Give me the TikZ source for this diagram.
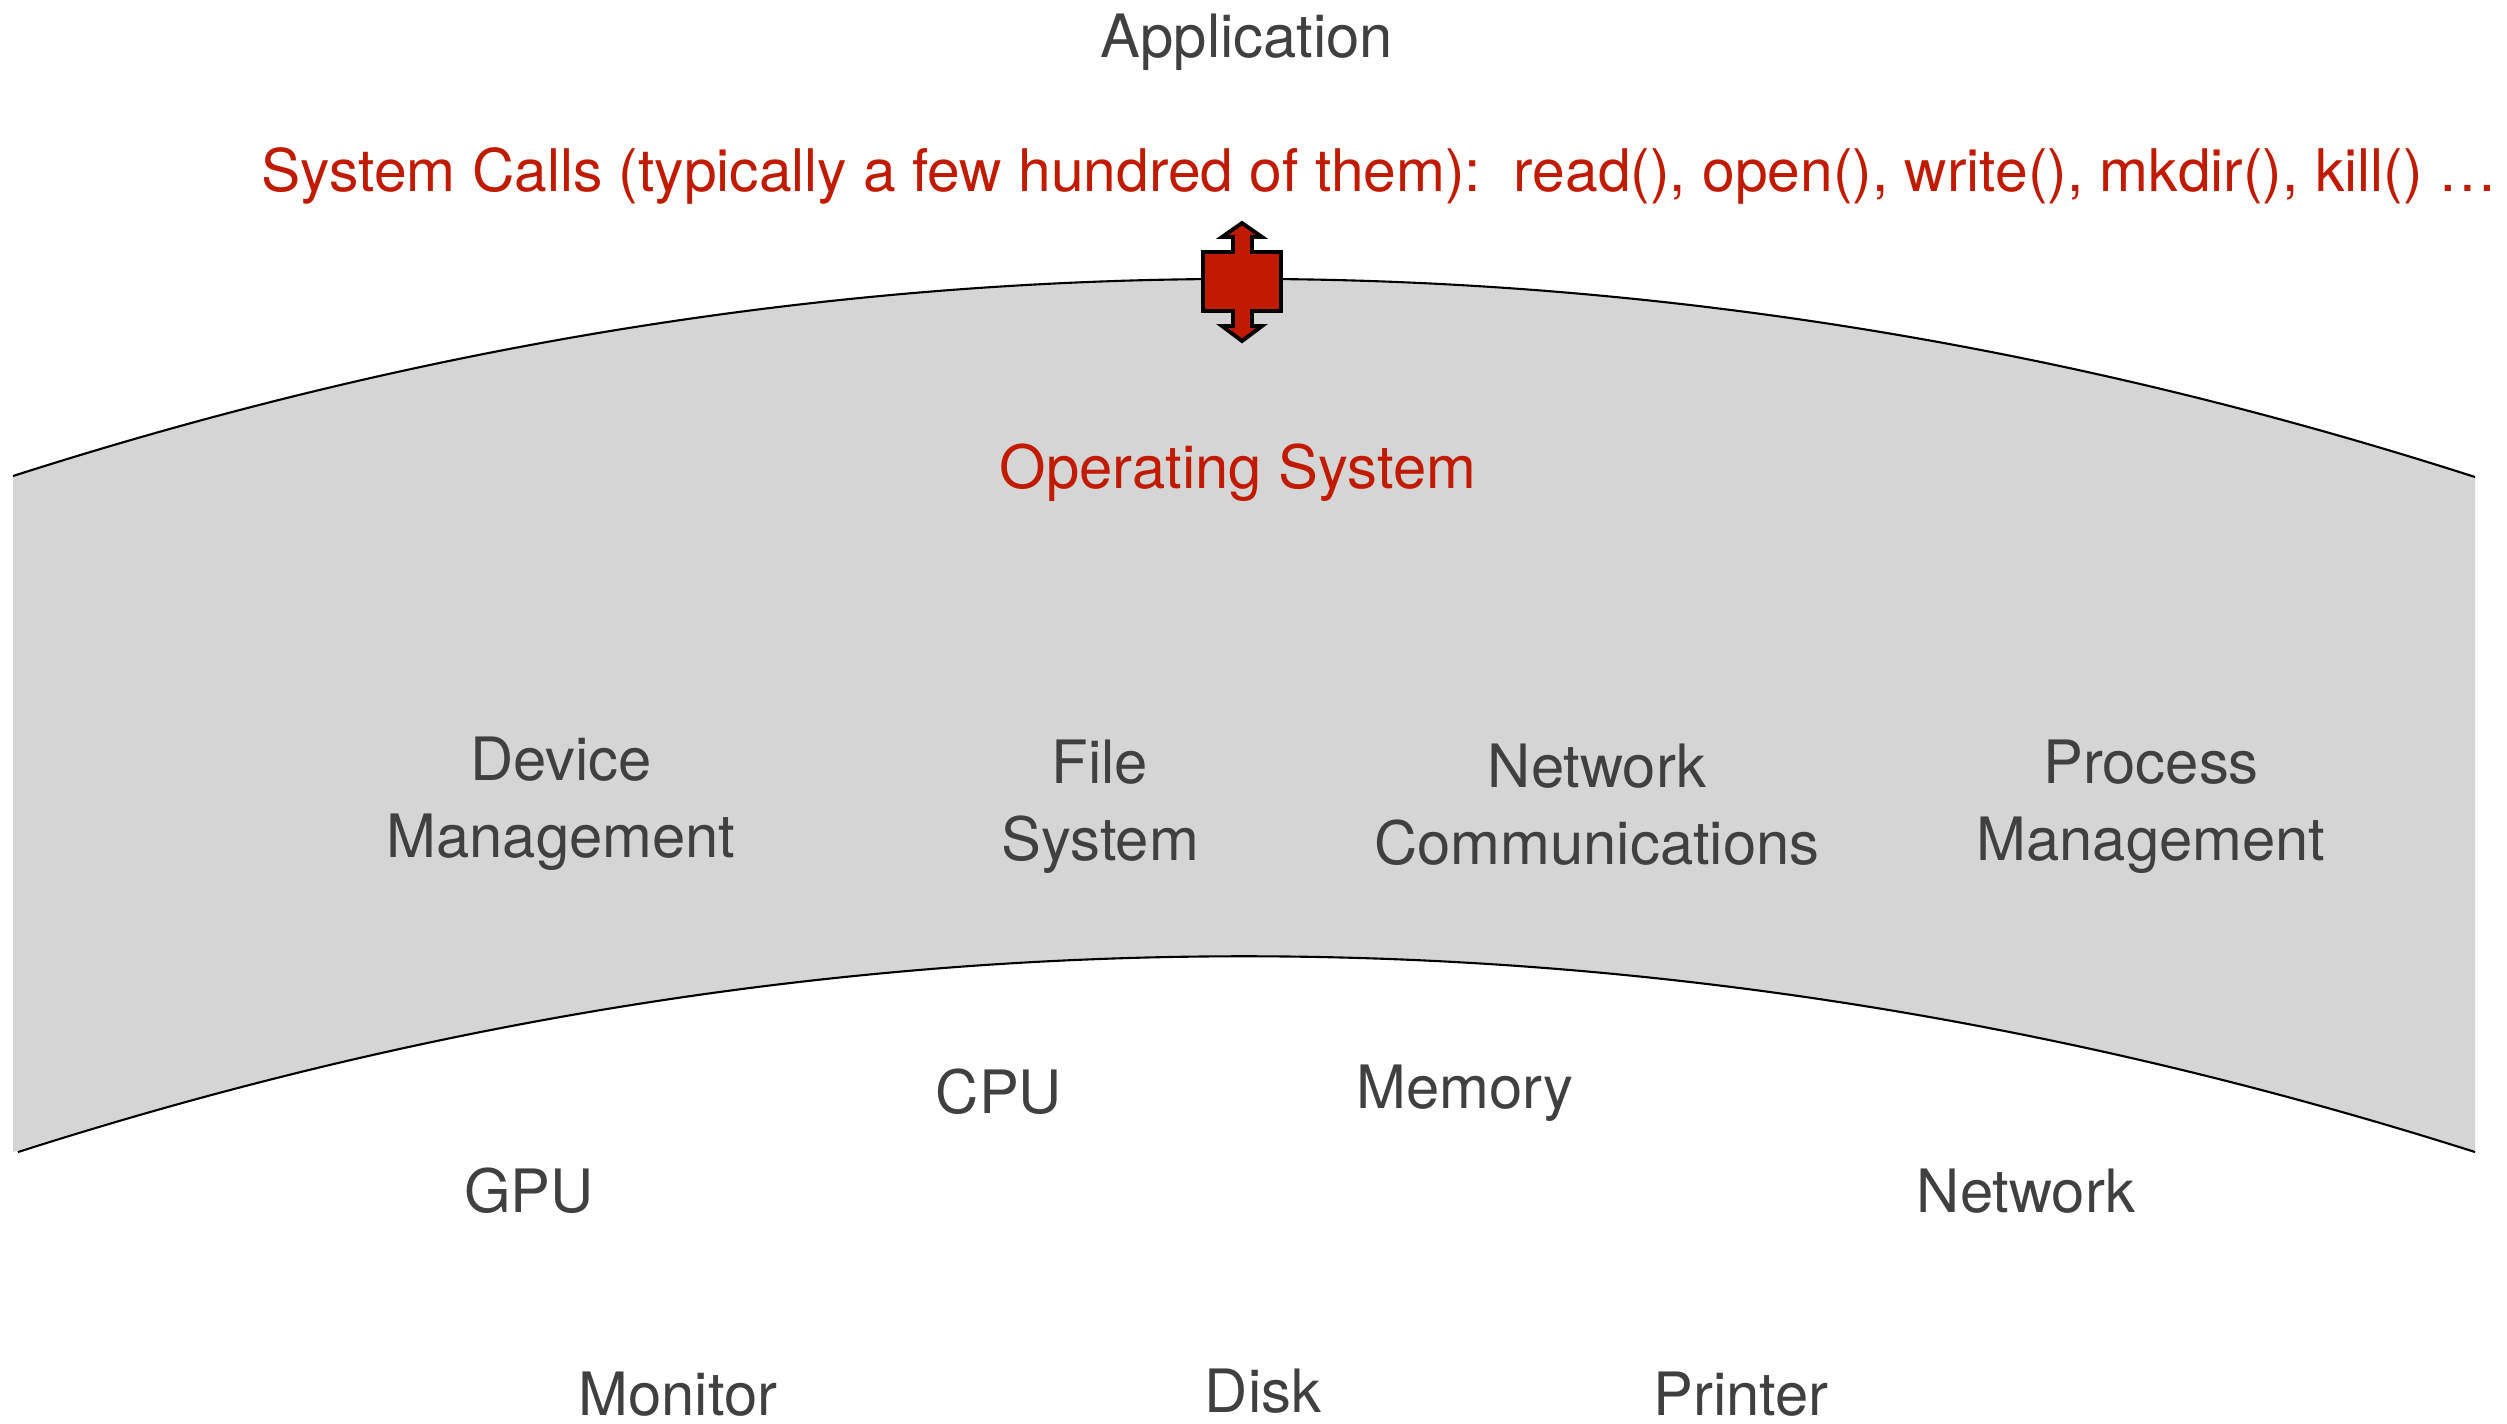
\documentclass[tikz,border=0pt]{standalone}
\usepackage{fontspec}
\setmainfont{TeX Gyre Heros}
\usepackage{tikz}
\usetikzlibrary{positioning}

\definecolor{osred}{HTML}{C01A00}
\definecolor{labelgray}{HTML}{404040}
\definecolor{bandgray}{HTML}{D5D5D5}

\tikzset{
    label/.style={
        text=labelgray,
        align=center,
        inner sep=0pt,
        font=\fontsize{17pt}{21.8pt}\selectfont
    },
    redlabel/.style={
        label,
        text=osred
    },
    band/.style={
        fill=bandgray
    },
    rim/.style={
        draw=black,
        line width=0.6pt
    },
    bigarrow/.style={
        fill=osred,
        draw=black,
        line width=1.1pt,
        line join=miter
    }
}

\begin{document}
\begin{tikzpicture}[x=0.01cm, y=-0.01cm]
    \useasboundingbox (0,0) rectangle (2507,1423);

    % the kernel band
    \fill[band] (13,476) -- (13,1152) .. controls (833,891) and (1654,891) .. (2475,1152)
        -- (2475,477) .. controls (1654,213) and (833,213) .. (13,476) -- cycle;
    \draw[rim] (13,476) .. controls (833,213) and (1654,213) .. (2475,477);
    \draw[rim] (18,1152) .. controls (833,891) and (1654,891) .. (2475,1152);

    % two-way arrow through the syscall boundary
    \filldraw[bigarrow] (1242,223) -- (1262,237) -- (1252,237) -- (1252,252)
        -- (1281,252) -- (1281,311) -- (1252,311) -- (1252,326) -- (1262,326)
        -- (1242,341) -- (1222,326) -- (1233,326) -- (1233,311) -- (1203,311)
        -- (1203,252) -- (1233,252) -- (1233,237) -- (1222,237) -- cycle;

    \node[label] (app) at (1247,42) {Application};
    \node[redlabel, anchor=west, font=\fontsize{16.7pt}{21pt}\selectfont] (syscalls) at (261,176)
        {System Calls (typically a few hundred of them):\ \ read(), open(), write(), mkdir(), kill() …};
    \node[redlabel] (os) at (1238,473) {Operating System};

    % kernel subsystems
    \node[label] (devmgmt) at (561,804) {Device\\Management};
    \node[label] (filesys) at (1100,807) {File\\System};
    \node[label] (netcomm) at (1597,805) {Network\\Communications};
    \node[label] (procmgmt) at (2151,807) {Process\\Management};

    % hardware
    \node[label] (cpu) at (999,1092) {CPU};
    \node[label] (memory) at (1465,1093) {Memory};
    \node[label] (gpu) at (529,1191) {GPU};
    \node[label] (network) at (2026,1191) {Network};
    \node[label] (monitor) at (678,1394) {Monitor};
    \node[label] (disk) at (1263,1391) {Disk};
    \node[label] (printer) at (1741,1394) {Printer};
\end{tikzpicture}
\end{document}
